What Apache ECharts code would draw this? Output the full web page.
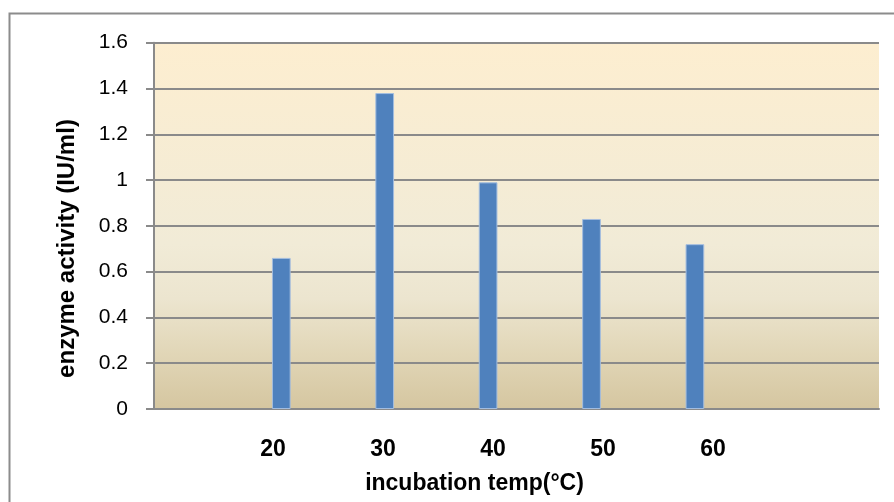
<!DOCTYPE html>
<html>
<head>
<meta charset="utf-8">
<script src="https://cdn.jsdelivr.net/npm/echarts@6/dist/echarts.min.js"></script>
<style>
html,body{margin:0;padding:0;background:#fff;}
#chart{width:894px;height:502px;}
</style>
</head>
<body>
<div id="chart"></div>
<script>
const categories = ['20', '30', '40', '50', '60'];
const activity = [0.66, 1.38, 0.99, 0.83, 0.72];
const xTitle = 'incubation temp(°C)';
const yTitle = 'enzyme activity (IU/ml)';
const yMin = 0, yMax = 1.6, yStep = 0.2;

const FONT = '"Liberation Sans", Arial, sans-serif';
const GRAY = '#8a8a8a';
const TOP = 42.7, BOTTOM = 93;

const chart = echarts.init(document.getElementById('chart'), null, {renderer: 'canvas'});
chart.setOption({
  animation: false,
  backgroundColor: '#ffffff',
  grid: [
    {
      left: 154, right: 15, top: TOP, bottom: BOTTOM, show: true, borderWidth: 0,
      backgroundColor: {
        type: 'linear', x: 0, y: 0, x2: 0, y2: 1,
        colorStops: [
          {offset: 0, color: '#fdeed0'},
          {offset: 0.55, color: '#f1ebd7'},
          {offset: 0.7, color: '#ece5cf'},
          {offset: 0.85, color: '#e1d6b7'},
          {offset: 1, color: '#d5c6a0'}
        ]
      }
    },
    {left: 229.6, right: 147.4, top: TOP, bottom: BOTTOM},
    {left: 218, right: 126, top: TOP, bottom: BOTTOM}
  ],
  xAxis: [
    {
      gridIndex: 0, type: 'value', min: 0, max: 1,
      axisLine: {show: true, lineStyle: {color: GRAY, width: 2}},
      axisTick: {show: false}, axisLabel: {show: false}, splitLine: {show: false}
    },
    {
      gridIndex: 1, type: 'category', data: categories,
      axisLine: {show: false}, axisTick: {show: false}, axisLabel: {show: false}
    },
    {
      gridIndex: 2, type: 'category', data: categories,
      axisLine: {show: false}, axisTick: {show: false},
      axisLabel: {show: true, fontFamily: FONT, fontSize: 23, fontWeight: 'bold', color: '#000', margin: 29}
    }
  ],
  yAxis: [
    {
      gridIndex: 0, type: 'value', min: yMin, max: yMax, interval: yStep,
      axisLine: {show: true, lineStyle: {color: GRAY, width: 2}},
      axisTick: {show: true, inside: false, length: 8, lineStyle: {color: GRAY, width: 2}},
      axisLabel: {fontFamily: FONT, fontSize: 21, color: '#000', margin: 26},
      splitLine: {show: true, lineStyle: {color: GRAY, width: 2}}
    },
    {
      gridIndex: 1, type: 'value', min: yMin, max: yMax, interval: yStep,
      axisLine: {show: false}, axisTick: {show: false}, axisLabel: {show: false}, splitLine: {show: false}
    },
    {
      gridIndex: 2, type: 'value', min: yMin, max: yMax, interval: yStep,
      axisLine: {show: false}, axisTick: {show: false}, axisLabel: {show: false}, splitLine: {show: false}
    }
  ],
  series: [
    {
      type: 'bar', xAxisIndex: 1, yAxisIndex: 1, data: activity,
      barWidth: 18.7,
      itemStyle: {color: '#4f81bd', borderColor: '#a3bddf', borderWidth: 1}
    }
  ],
  graphic: [
    {
      type: 'rect', silent: true, z: 100,
      shape: {x: 9.5, y: 13.5, width: 1000, height: 1000},
      style: {fill: 'none', stroke: '#8c8c8c', lineWidth: 2}
    },
    {
      type: 'text', x: 474.5, y: 484,
      style: {text: xTitle, font: 'bold 23px ' + FONT, fill: '#000', textAlign: 'center', textVerticalAlign: 'middle'}
    },
    {
      type: 'text', x: 67, y: 248.5, rotation: Math.PI / 2,
      style: {text: yTitle, font: 'bold 24px ' + FONT, fill: '#000', textAlign: 'center', textVerticalAlign: 'middle'}
    }
  ]
});
</script>
</body>
</html>
